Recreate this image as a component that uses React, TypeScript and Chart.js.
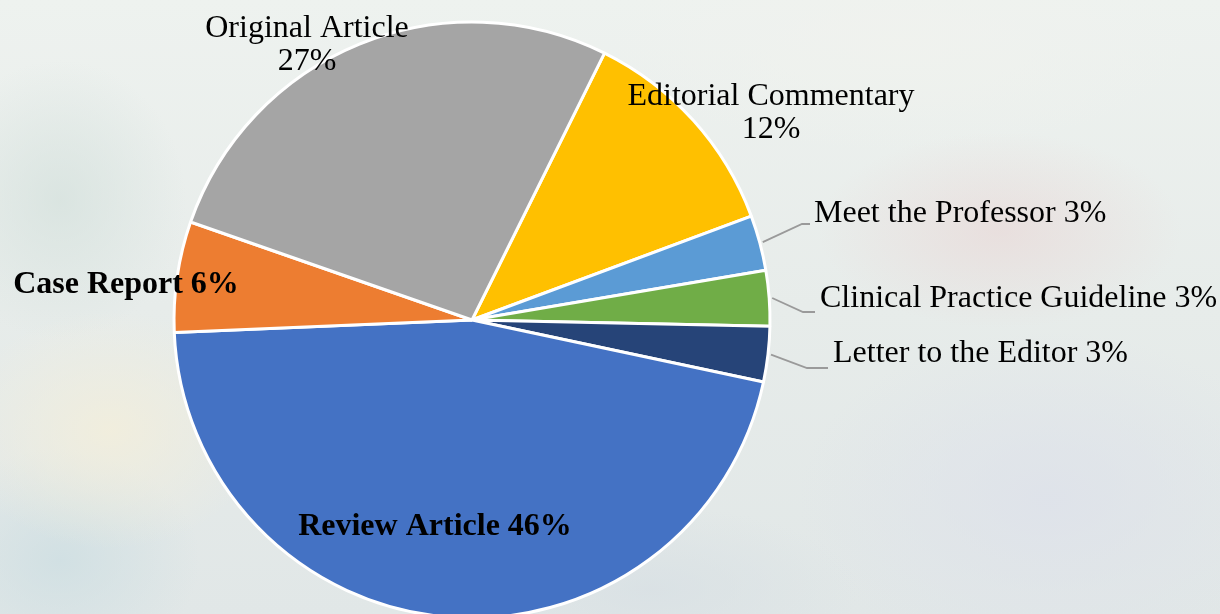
import React, { useEffect, useRef } from "react";
import { Chart, registerables } from "chart.js";

Chart.register(...registerables);

// ---- Data ----
const categories = [
  "Editorial Commentary",
  "Meet the Professor",
  "Clinical Practice Guideline",
  "Letter to the Editor",
  "Review Article",
  "Case Report",
  "Original Article",
];
const percentages = [12, 3, 3, 3, 46, 6, 27];
const sliceColors = ["#FFC000", "#5B9BD5", "#70AD47", "#264478", "#4472C4", "#ED7D31", "#A5A5A5"];

// ---- Label layout (positions/styles only) ----
type LabelLayout = {
  align: CanvasTextAlign;
  x: number;
  baselines: number[];
  bold: boolean;
  twoLine: boolean;
  leader?: number[][];
};
const labelLayout: LabelLayout[] = [
  { align: "center", x: 771, baselines: [105, 138], bold: false, twoLine: true },
  { align: "left", x: 814, baselines: [222], bold: false, twoLine: false, leader: [[802, 224], [810, 224]] },
  { align: "left", x: 820, baselines: [307], bold: false, twoLine: false, leader: [[803, 312], [815, 312]] },
  { align: "left", x: 833, baselines: [362], bold: false, twoLine: false, leader: [[807, 368], [828, 368]] },
  { align: "center", x: 435, baselines: [535], bold: true, twoLine: false },
  { align: "center", x: 126, baselines: [293], bold: true, twoLine: false },
  { align: "center", x: 307, baselines: [37, 70], bold: false, twoLine: true },
];

const FONT_FAMILY = '"Liberation Serif", "Times New Roman", serif';

const labelPlugin = {
  id: "sliceLabels",
  afterDatasetsDraw(chart: any) {
    const ctx = chart.ctx as CanvasRenderingContext2D;
    const meta = chart.getDatasetMeta(0);
    const values = chart.data.datasets[0].data as number[];
    const total = values.reduce((a, b) => a + b, 0);
    ctx.save();
    meta.data.forEach((arc: any, i: number) => {
      const { x, y, startAngle, endAngle, outerRadius } = arc.getProps(
        ["x", "y", "startAngle", "endAngle", "outerRadius"],
        true
      );
      const mid = (startAngle + endAngle) / 2;
      const L = labelLayout[i];
      if (L.leader) {
        ctx.beginPath();
        ctx.moveTo(x + Math.cos(mid) * (outerRadius + 3), y + Math.sin(mid) * (outerRadius + 3));
        L.leader.forEach((p) => ctx.lineTo(p[0], p[1]));
        ctx.strokeStyle = "#9a9a9a";
        ctx.lineWidth = 1.8;
        ctx.stroke();
      }
      const pct = Math.round((values[i] / total) * 100) + "%";
      const name = chart.data.labels[i];
      const lines = L.twoLine ? [name, pct] : [name + " " + pct];
      ctx.font = (L.bold ? "bold " : "") + "32px " + FONT_FAMILY;
      ctx.fillStyle = "#000000";
      ctx.textAlign = L.align;
      ctx.textBaseline = "alphabetic";
      lines.forEach((t: string, k: number) => ctx.fillText(t, L.x, L.baselines[k]));
    });
    ctx.restore();
  },
};

const bg = [
  "radial-gradient(ellipse 260px 140px at 1000px 230px, rgba(232,196,196,0.35), rgba(232,196,196,0) 70%)",
  "radial-gradient(ellipse 220px 170px at 110px 430px, rgba(242,238,220,0.9), rgba(242,238,220,0) 70%)",
  "radial-gradient(ellipse 200px 160px at 60px 560px, rgba(205,222,226,0.8), rgba(205,222,226,0) 70%)",
  "radial-gradient(ellipse 180px 200px at 60px 200px, rgba(214,226,222,0.8), rgba(214,226,222,0) 70%)",
  "radial-gradient(ellipse 360px 240px at 1050px 500px, rgba(222,226,234,0.9), rgba(222,226,234,0) 70%)",
  "radial-gradient(ellipse 420px 160px at 900px 40px, rgba(240,242,238,0.9), rgba(240,242,238,0) 70%)",
  "radial-gradient(ellipse 300px 120px at 650px 590px, rgba(216,224,228,0.8), rgba(216,224,228,0) 70%)",
  "linear-gradient(180deg, #eef2ef 0%, #e7ecea 50%, #e1e7e7 100%)",
].join(",");

export default function App() {
  const canvasRef = useRef<HTMLCanvasElement | null>(null);

  useEffect(() => {
    document.body.style.margin = "0";
    const canvas = canvasRef.current;
    if (!canvas) return;
    const chart = new Chart(canvas, {
      type: "pie",
      data: {
        labels: categories,
        datasets: [
          {
            data: percentages,
            backgroundColor: sliceColors,
            borderColor: "#ffffff",
            borderWidth: 3,
          },
        ],
      },
      options: {
        responsive: false,
        animation: false,
        rotation: 26.4,
        radius: 298,
        layout: { padding: { left: 174, right: 1220 - 770, top: 26, bottom: 0 } },
        plugins: {
          legend: { display: false },
          tooltip: { enabled: false },
        },
      },
      plugins: [labelPlugin],
    } as any);
    return () => chart.destroy();
  }, []);

  return (
    <div
      style={{
        position: "fixed",
        left: 0,
        top: 0,
        width: 1220,
        height: 614,
        background: bg,
        overflow: "hidden",
      }}
    >
      <canvas ref={canvasRef} width={1220} height={614} style={{ display: "block" }} />
    </div>
  );
}
